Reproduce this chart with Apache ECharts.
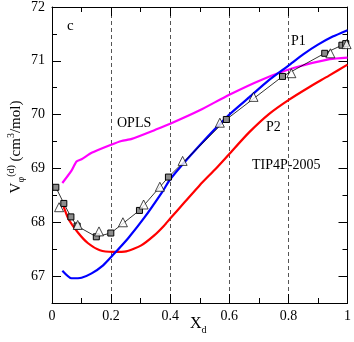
<!DOCTYPE html>
<html>
<head>
<meta charset="utf-8">
<script src="https://cdn.jsdelivr.net/npm/echarts@6/dist/echarts.min.js"></script>
<style>
html,body{margin:0;padding:0;background:#fff;}
#c{width:354px;height:342px;}
</style>
</head>
<body>
<div id="c"></div>
<script>
// ---- data ----
var oplsX = [0.035, 0.066, 0.083, 0.10, 0.134, 0.20, 0.235, 0.27, 0.35, 0.40, 0.50, 0.60, 0.71, 0.82, 0.94, 1.0];
var oplsY = [68.73, 68.96, 69.13, 69.17, 69.29, 69.44, 69.51, 69.55, 69.72, 69.83, 70.08, 70.37, 70.65, 70.87, 71.03, 71.06];

var p1X = [0.035, 0.066, 0.10, 0.134, 0.173, 0.206, 0.257, 0.313, 0.375, 0.40, 0.50, 0.60, 0.667, 0.734, 0.80, 0.85, 0.90, 0.95, 1.0];
var p1Y = [67.10, 66.96, 66.97, 67.05, 67.20, 67.39, 67.70, 68.09, 68.58, 68.80, 69.43, 70.00, 70.32, 70.64, 70.91, 71.12, 71.30, 71.45, 71.57];

var p2X = [0.035, 0.055, 0.089, 0.122, 0.162, 0.206, 0.251, 0.302, 0.347, 0.38, 0.40, 0.45, 0.50, 0.555, 0.60, 0.667, 0.734, 0.80, 0.87, 0.936, 1.0];
var p2Y = [68.36, 68.07, 67.80, 67.61, 67.48, 67.45, 67.46, 67.57, 67.76, 67.94, 68.07, 68.38, 68.69, 69.00, 69.27, 69.67, 70.01, 70.27, 70.51, 70.72, 70.93];

var sqX = [0.013, 0.040, 0.064, 0.085, 0.150, 0.199, 0.296, 0.394, 0.590, 0.780, 0.923, 0.981, 0.994];
var sqY = [68.65, 68.35, 68.10, 67.93, 67.73, 67.80, 68.22, 68.84, 69.91, 70.71, 71.14, 71.29, 71.32];

var trX = [0.024, 0.087, 0.159, 0.240, 0.310, 0.365, 0.442, 0.568, 0.682, 0.810, 0.942, 0.997];
var trY = [68.28, 67.95, 67.83, 68.00, 68.33, 68.66, 69.14, 69.85, 70.33, 70.77, 71.14, 71.31];

var xTickLabels = ['0', '0.2', '0.4', '0.6', '0.8', '1'];
var yTickLabels = ['67', '68', '69', '70', '71', '72'];
var yTop = 72;

// ---- build ----
function pairs(xs, ys) { return xs.map(function (x, i) { return [x, ys[i]]; }); }
var FF = 'Liberation Serif';
var black = '#000';

var chart = echarts.init(document.getElementById('c'), null, { renderer: 'canvas' });

function yMinorAxis(pos) {
  return {
    type: 'value', min: 66.5, max: 72, interval: 0.5, position: pos,
    axisLine: { show: true, lineStyle: { color: black, width: 1 } },
    axisTick: { show: true, inside: true, length: 5, lineStyle: { color: black } },
    axisLabel: { show: false }, splitLine: { show: false }
  };
}
function yMajorAxis(pos, showLabel) {
  return {
    type: 'value', min: 0, max: 5.5, interval: 1, inverse: true, position: pos,
    axisLine: { show: false },
    axisTick: { show: true, inside: true, length: 9, lineStyle: { color: black } },
    axisLabel: {
      show: showLabel, fontFamily: FF, fontSize: 14, color: black, margin: 7,
      formatter: function (v) {
        if (Math.abs(v - Math.round(v)) > 1e-6) return '';
        var lbl = String(yTop - Math.round(v));
        return yTickLabels.indexOf(lbl) >= 0 ? lbl : '';
      }
    },
    splitLine: { show: false }
  };
}
function xAxisDef(pos, showLabel, split) {
  return {
    type: 'value', min: 0, max: 1, interval: 0.2, position: pos,
    axisLine: { show: true, onZero: false, lineStyle: { color: black, width: 1 } },
    axisTick: { show: true, inside: true, length: 9, lineStyle: { color: black } },
    minorTick: { show: true, splitNumber: 2, length: 5, lineStyle: { color: black } },
    axisLabel: {
      show: showLabel, fontFamily: FF, fontSize: 14, color: black, margin: 6,
      formatter: function (v) { return xTickLabels[Math.round(v / 0.2)] || ''; }
    },
    splitLine: { show: split, lineStyle: { color: '#555', width: 1, type: [4, 3] } }
  };
}

var option = {
  animation: false,
  backgroundColor: '#fff',
  grid: { left: 52, right: 5, top: 6, bottom: 39, containLabel: false },
  xAxis: [xAxisDef('bottom', true, true), xAxisDef('top', false, false)],
  yAxis: [yMinorAxis('left'), yMajorAxis('left', true), yMinorAxis('right'), yMajorAxis('right', false)],
  series: [
    { type: 'line', data: pairs(oplsX, oplsY), showSymbol: false, symbol: 'none', smooth: 0.2,
      lineStyle: { color: '#ff00ff', width: 2.2 }, z: 2 },
    { type: 'line', data: pairs(p2X, p2Y), showSymbol: false, symbol: 'none', smooth: 0.2,
      lineStyle: { color: '#ff0000', width: 2.2 }, z: 2 },
    { type: 'line', data: pairs(p1X, p1Y), showSymbol: false, symbol: 'none', smooth: 0.2,
      lineStyle: { color: '#0000ff', width: 2.2 }, z: 3 },
    { type: 'line', data: pairs(sqX, sqY), symbol: 'rect', symbolSize: 6, showSymbol: true,
      lineStyle: { color: black, width: 0.8 },
      itemStyle: { color: '#8c8c8c', borderColor: black, borderWidth: 1 }, z: 4 },
    { type: 'scatter', data: pairs(trX, trY), symbol: 'triangle', symbolSize: 9,
      itemStyle: { color: '#fff', borderColor: black, borderWidth: 0.9 }, z: 5 }
  ],
  graphic: [
    { type: 'text', left: 67, top: 19, style: { text: 'c', font: '15px "Liberation Serif"', fill: black } },
    { type: 'text', left: 117, top: 116, style: { text: 'OPLS', font: '14px "Liberation Serif"', fill: black } },
    { type: 'text', left: 291, top: 34, style: { text: 'P1', font: '14px "Liberation Serif"', fill: black } },
    { type: 'text', left: 266, top: 120, style: { text: 'P2', font: '14px "Liberation Serif"', fill: black } },
    { type: 'text', left: 252, top: 158, style: { text: 'TIP4P-2005', font: '14px "Liberation Serif"', fill: black } },
    { type: 'text', left: 190, top: 316, style: {
        text: 'X{sub|d}', font: '16px "Liberation Serif"', fill: black,
        rich: { sub: { fontFamily: FF, fontSize: 10, verticalAlign: 'bottom', lineHeight: 22, padding: [8, 0, 0, 0] } }
      } },
    { type: 'text', x: 16, y: 147, rotation: Math.PI / 2, style: {
        text: 'V{sub|φ}{sup|(d)} (cm{sup|3}/mol)', fill: black, fontFamily: FF, fontSize: 15,
        align: 'center', verticalAlign: 'middle',
        rich: {
          sub: { fontFamily: FF, fontSize: 10, padding: [10, 0, 0, 0] },
          sup: { fontFamily: FF, fontSize: 10, padding: [0, 0, 10, 0] }
        }
      } }
  ]
};
chart.setOption(option);
</script>
</body>
</html>
